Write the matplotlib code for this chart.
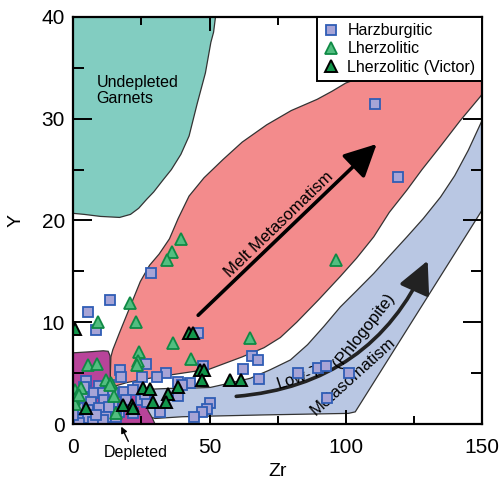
import matplotlib
matplotlib.use("Agg")
import matplotlib.pyplot as plt
from matplotlib.patches import Polygon, FancyArrowPatch
from matplotlib.lines import Line2D
from matplotlib.ticker import MultipleLocator

plt.rcParams['font.family'] = ['Liberation Sans', 'DejaVu Sans']

# field outlines in (Zr, Y)
undepleted = [(0, 40), (52.2, 40), (51.5, 38.5), (50.5, 37.5), (48.5, 34.5), (45.5, 31.5),
              (42.5, 28.3), (39.5, 26.5), (36, 25.0), (33, 24.0), (29.5, 22.8), (27, 22.1),
              (24, 21.2), (21, 20.6), (17, 20.3), (10, 20.4), (4, 20.6), (0, 20.7)]

melt = [(13.6, 3.6), (13.6, 5.0), (13.8, 6.6), (14.5, 7.3), (17.0, 9.0), (20.8, 11.5),
        (24.6, 14.0), (28.0, 15.6), (31.5, 16.7), (35.3, 18.2), (38.5, 20.2), (42.5, 22.4),
        (48, 24.2), (55, 26.0), (62, 27.7), (71, 29.4), (80, 30.8), (89.5, 31.9),
        (95, 32.7), (100, 33.5), (110, 34.5), (150, 34.5), (150, 32.4), (149.5, 32.2),
        (142, 29.8), (134.8, 27.3), (128, 25.0), (122.5, 23.0), (116, 20.8), (110.3, 18.4),
        (104, 16.3), (98, 14.5), (90, 12.2), (82, 10.0), (76, 8.5), (70, 7.5), (62, 6.6),
        (55, 5.9), (50, 5.4), (45, 5.2), (40, 5.0), (30, 4.6), (20, 4.1), (13.6, 3.6)]

phlogopite = [(26, 3.4), (35, 3.5), (45, 3.55), (50.3, 3.6), (57, 4.0), (65, 4.5), (72, 5.3),
              (79.7, 6.3), (86, 7.8), (92, 9.6), (98, 11.5), (104, 13.1), (110.3, 14.8),
              (116, 16.5), (122.5, 18.4), (128.5, 20.2), (134.8, 22.3), (140, 24.4),
              (145, 26.9), (150, 29.8), (150, 21.0), (103.5, 1.2), (101, 1.05), (70, 0.9),
              (40, 0.72), (30, 0.55), (27, 0.8), (26, 2)]

depleted = [(0, 0), (0, 7.0), (6, 7.1), (11, 7.2), (12.8, 7.15), (13.5, 6.7), (13.6, 4.3),
            (14.2, 3.7), (18, 3.55), (23, 3.5), (26.5, 3.4), (26.5, 2.2), (27.5, 1.3),
            (29, 0.6), (30, 0)]

# garnet analyses
harz_zr = [110.9, 119.1, 28.6, 13.5, 5.3, 8.2, 45.7, 26.6, 17.0, 17.5, 34.1, 30.6, 25.3,
           47.6, 65.7, 67.8, 62.4, 68.1, 82.4, 89.7, 92.9, 101.1, 93.1, 38.6, 42.9, 38.4,
           50.1, 48.9, 47.4, 44.2, 32.0, 4.8, 9.5,
           4.0, 13.2, 23.6, 7.7, 10.8, 14.4, 18.7, 21.8, 1.0, 3.4, 6.5, 11.4, 14.4, 19.4,
           24.9, 0.4, 2.8, 5.3, 9.55, 13.2, 16.9, 21.8, 0.2, 2.2, 5.3, 8.9, 12.0, 15.7, 2.2,
           7.1, 10.8, 0.0, 8.3, 27.0, 26.3, 39.8]
harz_y = [31.4, 24.3, 14.8, 12.2, 11.0, 9.2, 8.9, 5.9, 5.3, 4.6, 5.0, 4.6, 4.6,
          5.7, 6.7, 6.3, 5.4, 4.4, 5.0, 5.5, 5.7, 5.0, 2.6, 4.15, 4.05, 2.8,
          2.05, 1.45, 1.15, 0.7, 1.15, 4.2, 3.7,
          3.67, 3.84, 3.67, 3.02, 3.02, 3.08, 3.18, 3.35, 2.2, 2.53, 2.2, 2.36, 2.2, 2.36,
          2.36, 1.22, 1.55, 1.38, 1.55, 1.71, 1.22, 1.06, 0.4, 0.4, 0.57, 0.4, 0.73, 0.73, 0.1,
          0.25, 0.4, 0.9, 0.9, 2.2, 3.0, 3.84]

lherz_zr = [39.6, 36.4, 34.3, 96.3, 20.8, 8.9, 23.2, 36.6, 64.7, 24.0, 23.9, 23.3, 43.1,
            5.3, 8.7, 12.0, 13.8, 0.7, 2.8, 0.2, 0.6, 2.2, 15.1, 15.7, 13.5]
lherz_y = [18.2, 16.9, 16.1, 16.1, 11.9, 10.0, 10.0, 8.0, 8.5, 7.1, 6.2, 5.8, 6.4,
           5.8, 5.9, 4.3, 4.0, 3.35, 3.5, 2.5, 2.0, 2.9, 2.75, 1.1, 3.8]

victor_zr = [0.6, 42.3, 43.8, 46.6, 48.1, 47.4, 57.4, 61.5, 25.7, 28.0, 38.6, 34.9,
             34.1, 29.4, 21.6, 18.1, 21.8, 4.7]
victor_y = [9.3, 8.9, 8.9, 5.3, 5.3, 4.3, 4.3, 4.3, 3.5, 3.4, 3.6, 2.95,
            2.2, 2.2, 1.9, 1.9, 1.55, 1.6]

fig = plt.figure(figsize=(5.02, 4.83), dpi=100)
ax = fig.add_axes([0.146, 0.122, 0.814, 0.843])

edge = '#333333'
for pts, col in [(undepleted, '#82CDC1'), (phlogopite, '#B9C7E3'),
                 (melt, '#F38B8C'), (depleted, '#B8449A')]:
    ax.add_patch(Polygon(pts, closed=True, facecolor=col, edgecolor=edge, lw=0.9, zorder=1))

# trend arrows
ax.add_patch(FancyArrowPatch((45.1, 10.5), (112.1, 27.7), arrowstyle='-|>,head_length=0.9,head_width=0.45',
                             mutation_scale=22, lw=2.6, color='black', zorder=2))
ax.add_patch(FancyArrowPatch((58.8, 2.7), (130.5, 16.3), connectionstyle='arc3,rad=0.3',
                             arrowstyle='-|>,head_length=0.9,head_width=0.45',
                             mutation_scale=22, lw=2.6, color='#222222', zorder=2))

ax.text(75.4, 19.6, 'Melt Metasomatism', rotation=44, ha='center', va='center',
        fontsize=12, rotation_mode='anchor', zorder=2)
ax.text(83.0, 4.6, 'Low-T', rotation=18, ha='center', va='center',
        fontsize=12, rotation_mode='anchor', zorder=2)
ax.text(106.5, 9.2, '(Phlogopite)', rotation=52, ha='center', va='center',
        fontsize=12, rotation_mode='anchor', zorder=2)
ax.text(102.6, 4.7, 'Metasomatism', rotation=42, ha='center', va='center',
        fontsize=12, rotation_mode='anchor', zorder=2)
ax.text(8.6, 32.8, 'Undepleted\nGarnets', ha='left', va='center', fontsize=11.5,
        linespacing=1.1, zorder=2)

ax.text(23, -2.75, 'Depleted', ha='center', va='center', fontsize=11.5, clip_on=False)
ax.annotate('', xy=(17.6, -0.25), xytext=(20.2, -1.7), annotation_clip=False,
            arrowprops=dict(arrowstyle='-|>', color='black', lw=1, mutation_scale=9,
                            shrinkA=0, shrinkB=0))

ax.plot(harz_zr, harz_y, 's', ms=6.5, mfc='#A7A4D6', mec='#2F5DB5', mew=1.3, ls='none', zorder=3)
ax.plot(lherz_zr, lherz_y, '^', ms=8, mfc='#52BE80', mec='#0F8A45', mew=1.3, ls='none', zorder=4)
ax.plot(victor_zr, victor_y, '^', ms=8.5, mfc='#12964A', mec='black', mew=1.4, ls='none', zorder=5)

ax.set_xlim(0, 150)
ax.set_ylim(0, 40)
ax.xaxis.set_major_locator(MultipleLocator(50))
ax.xaxis.set_minor_locator(MultipleLocator(25))
ax.yaxis.set_major_locator(MultipleLocator(10))
ax.yaxis.set_minor_locator(MultipleLocator(5))
ax.tick_params(which='both', direction='in', top=True, right=True, width=1.4, labelsize=15)
ax.tick_params(axis='x', which='major', length=10, pad=10)
ax.tick_params(axis='x', which='minor', length=6)
ax.tick_params(axis='y', which='major', length=14, pad=6)
ax.tick_params(axis='y', which='minor', length=8)
for s in ax.spines.values():
    s.set_linewidth(1.6)
    s.set_zorder(6)

ax.set_xlabel('Zr', fontsize=14)
ax.set_ylabel('Y', fontsize=14)
ax.xaxis.set_label_coords(0.5, -0.095)
ax.yaxis.set_label_coords(-0.12, 0.5)

handles = [
    Line2D([], [], marker='s', ms=6.5, mfc='#A7A4D6', mec='#2F5DB5', mew=1.3, ls='none'),
    Line2D([], [], marker='^', ms=8, mfc='#52BE80', mec='#0F8A45', mew=1.3, ls='none'),
    Line2D([], [], marker='^', ms=8.5, mfc='#12964A', mec='black', mew=1.4, ls='none'),
]
leg = ax.legend(handles, ['Harzburgitic', 'Lherzolitic', 'Lherzolitic (Victor)'],
                loc='upper right', borderaxespad=0, fontsize=11.5, fancybox=False,
                framealpha=1, edgecolor='black', handlelength=1.0, handletextpad=0.5,
                labelspacing=0.2, borderpad=0.4)
leg.get_frame().set_linewidth(1.4)
leg.set_zorder(7)

fig.savefig('out.png', dpi=100)
